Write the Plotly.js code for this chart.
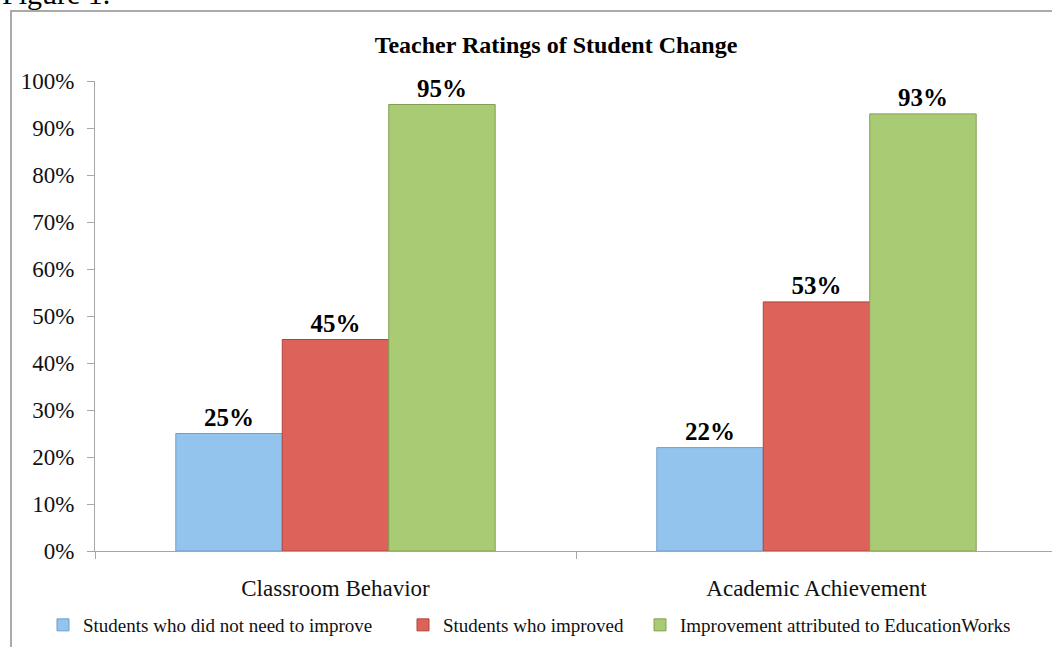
<!DOCTYPE html>
<html>
<head>
<meta charset="utf-8">
<script src="https://cdn.plot.ly/plotly-3.0.1.min.js"></script>
<style>
html,body{margin:0;padding:0;overflow:hidden;background:#fff;}
#chart{width:1070px;height:660px;}
</style>
</head>
<body>
<div id="chart"></div>
<script>
const categories = ["Classroom Behavior", "Academic Achievement"];
const seriesNames = ["Students who did not need to improve", "Students who improved", "Improvement attributed to EducationWorks"];
const notNeeded = [0.25, 0.22];
const improved = [0.45, 0.53];
const attributed = [0.95, 0.93];
const seriesValues = [notNeeded, improved, attributed];
const seriesColors = ["#93C4EE", "#DD6259", "#A9CB73"];
const lineColors = ["#6E9FCB", "#B0463F", "#849F53"];
const yTickVals = [0, 0.1, 0.2, 0.3, 0.4, 0.5, 0.6, 0.7, 0.8, 0.9, 1.0];
const yTickText = ["0%", "10%", "20%", "30%", "40%", "50%", "60%", "70%", "80%", "90%", "100%"];

const FONT = "'Liberation Serif', 'Times New Roman', serif";

const W = 1070, H = 660;
const L = 95, R = 13, T = 81, B = 109;
const pw = W - L - R, ph = H - T - B;
const px = v => (v - L) / pw;
const py = v => (H - B - v) / ph;

const legendIds = ["legend", "legend2", "legend3"];
const legendTextStart = [83, 443, 680];

const traces = seriesValues.map((vals, i) => ({
  type: "bar",
  name: seriesNames[i],
  legend: legendIds[i],
  x: categories,
  y: vals,
  marker: {color: seriesColors[i], line: {color: lineColors[i], width: 1}},
  texttemplate: "%{y:.0%}",
  textposition: "outside",
  cliponaxis: false,
  textfont: {family: FONT, size: 25, color: "#000", weight: "bold"},
  hoverinfo: "skip"
}));

const legendStyle = (i) => ({
  orientation: "h",
  x: px(legendTextStart[i] - 40), xanchor: "left",
  y: py(625), yanchor: "middle",
  font: {family: FONT, size: 19, color: "#111"},
  itemwidth: 30,
  borderwidth: 0,
  bgcolor: "rgba(0,0,0,0)"
});

const layout = {
  width: W, height: H,
  margin: {l: L, r: R, t: T, b: B, pad: 0},
  paper_bgcolor: "#fff",
  plot_bgcolor: "#fff",
  font: {family: FONT, color: "#111"},
  barmode: "group",
  bargap: 0.336,
  bargroupgap: 0,
  showlegend: true,
  title: {
    text: "<b>Teacher Ratings of Student Change</b>",
    font: {family: FONT, size: 24, color: "#000"},
    xref: "paper", x: px(556), xanchor: "center",
    yref: "container", y: 1 - 45 / H, yanchor: "middle"
  },
  xaxis: {
    type: "category",
    showline: true, linecolor: "#A6A6A6", linewidth: 1,
    ticks: "outside", tickson: "boundaries", ticklen: 7, tickcolor: "#A6A6A6",
    ticklabelstandoff: 16,
    tickfont: {family: FONT, size: 23, color: "#111"},
    showgrid: false, zeroline: false, fixedrange: true
  },
  yaxis: {
    range: [0, 1],
    tickvals: yTickVals, ticktext: yTickText,
    showline: true, linecolor: "#A6A6A6", linewidth: 1,
    ticks: "outside", ticklen: 7, tickcolor: "#A6A6A6",
    ticklabelstandoff: 8,
    tickfont: {family: FONT, size: 23, color: "#111"},
    showgrid: false, zeroline: false, fixedrange: true
  },
  legend: legendStyle(0),
  legend2: legendStyle(1),
  legend3: legendStyle(2),
  shapes: [{
    type: "rect", xref: "paper", yref: "paper",
    x0: px(11), x1: px(1200), y0: py(11), y1: py(900),
    line: {color: "#AAAAAA", width: 2}, fillcolor: "rgba(0,0,0,0)", layer: "below"
  }],
  annotations: [{
    text: "Figure 1.", xref: "paper", yref: "paper",
    x: px(0), xanchor: "left", y: py(12), yanchor: "bottom",
    showarrow: false, font: {family: FONT, size: 30, color: "#000"}
  }]
};

Plotly.newPlot("chart", traces, layout, {displayModeBar: false, staticPlot: true});
</script>
</body>
</html>
